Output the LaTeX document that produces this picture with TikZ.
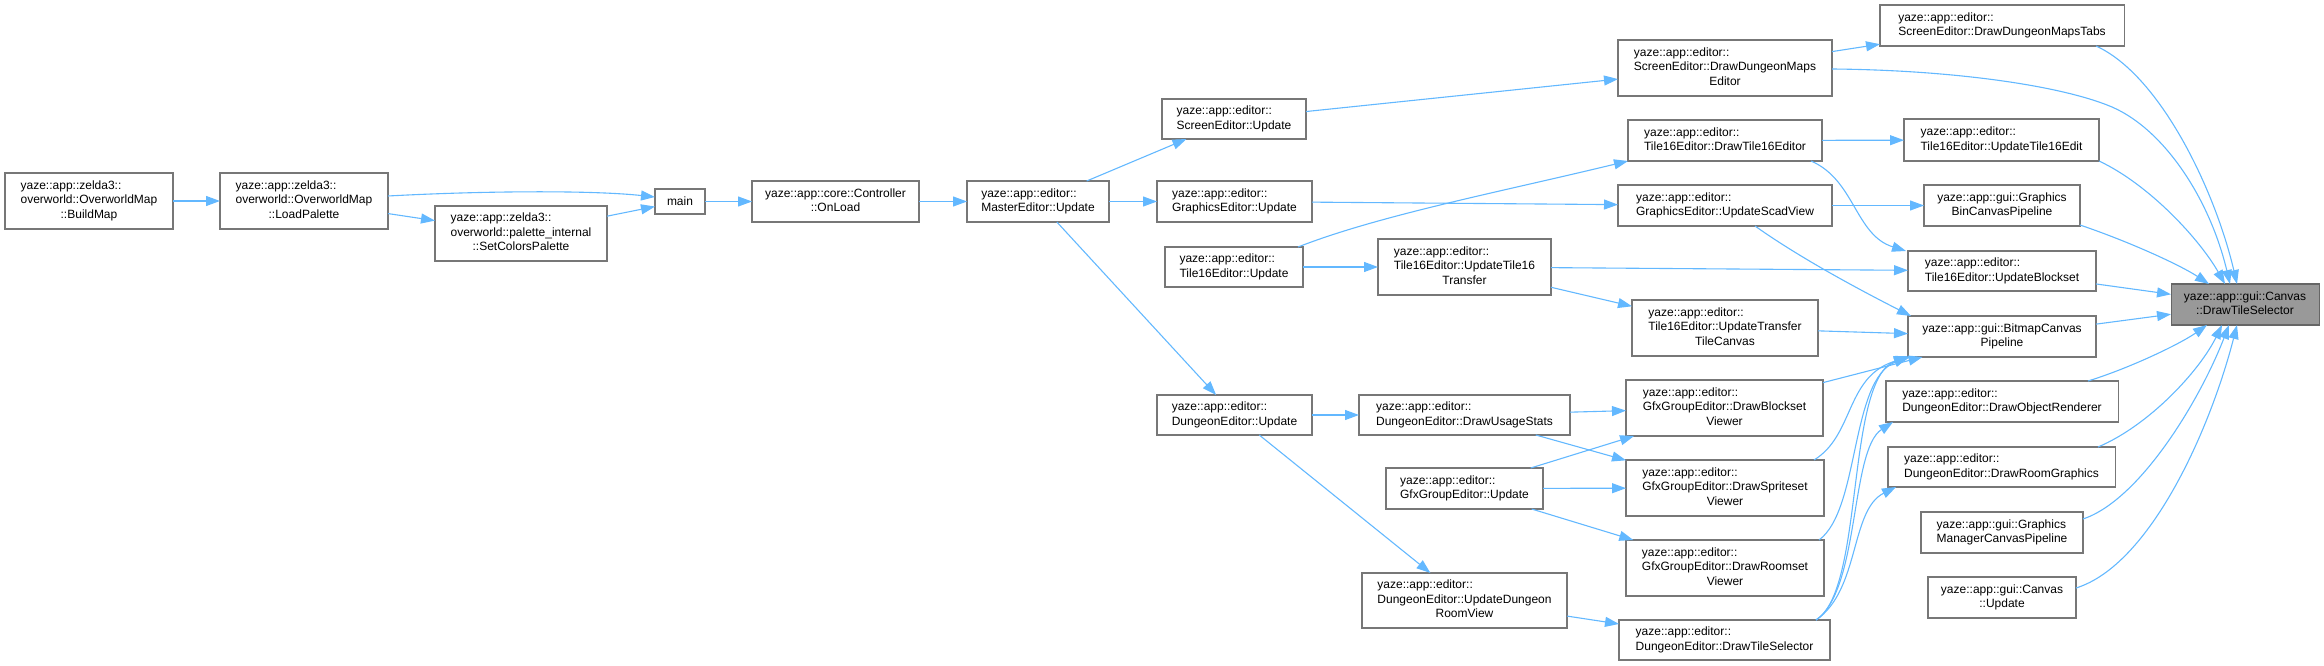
\documentclass[tikz,border=0pt]{standalone}
\usepackage{fontspec}
\setmainfont{Liberation Sans}
\usetikzlibrary{arrows.meta,calc}
\definecolor{edgec}{HTML}{63B8FF}
\definecolor{boxc}{HTML}{777777}
\definecolor{hlbox}{HTML}{666666}
\definecolor{hlfill}{HTML}{999999}
\newcommand{\tl}[2]{\begin{tabular}{@{}l@{}}#1\\\multicolumn{1}{@{}c@{}}{#2}\end{tabular}}
\newcommand{\bx}[7][]{\node[box,#1,minimum width={#5-#3},minimum height={#6-#4}] (#2) at ({(#3+#5)/2},{(#4+#6)/2}) {#7};}
\tikzset{
  box/.style={draw=boxc, fill=white, line width=1.05pt, inner sep=0pt, outer sep=0pt,
    font=\fontsize{12}{14.4}\selectfont, align=center},
  conn/.style={draw=edgec, line width=1.1pt, -{Triangle[length=14pt,width=10pt]}}
}
\begin{document}
\begin{tikzpicture}[x=1pt,y=-1pt]
\useasboundingbox (0,0) rectangle (2324,666);
% nodes
\bx{buildmap}{5}{173}{173}{229}{\tl{yaze::app::zelda3::\\overworld::OverworldMap}{::BuildMap}}
\bx{loadpal}{220}{173}{388}{229}{\tl{yaze::app::zelda3::\\overworld::OverworldMap}{::LoadPalette}}
\bx{setcol}{435}{206}{607}{261}{\tl{yaze::app::zelda3::\\overworld::palette\_internal}{::SetColorsPalette}}
\bx{main}{655}{189}{705}{214}{main}
\bx{onload}{752}{181}{919}{222}{\tl{yaze::app::core::Controller}{::OnLoad}}
\bx{master}{967}{181}{1109}{222}{\tl{yaze::app::editor::}{MasterEditor::Update}}
\bx{scrupd}{1162}{99}{1306}{139}{\tl{yaze::app::editor::}{ScreenEditor::Update}}
\bx{gfxupd}{1157}{181}{1312}{222}{\tl{yaze::app::editor::}{GraphicsEditor::Update}}
\bx{t16upd}{1165}{247}{1303}{287}{\tl{yaze::app::editor::}{Tile16Editor::Update}}
\bx{dunupd}{1157}{395}{1312}{435}{\tl{yaze::app::editor::}{DungeonEditor::Update}}
\bx{t16xfer}{1378}{239}{1551}{295}{\tl{yaze::app::editor::\\Tile16Editor::UpdateTile16}{Transfer}}
\bx{usage}{1359}{395}{1570}{435}{\tl{yaze::app::editor::}{DungeonEditor::DrawUsageStats}}
\bx{gfxgrp}{1386}{468}{1543}{509}{\tl{yaze::app::editor::}{GfxGroupEditor::Update}}
\bx{roomview}{1362}{573}{1567}{628}{\tl{yaze::app::editor::\\DungeonEditor::UpdateDungeon}{RoomView}}
\bx{mapsed}{1618}{40}{1832}{96}{\tl{yaze::app::editor::\\ScreenEditor::DrawDungeonMaps}{Editor}}
\bx{dt16}{1628}{120}{1822}{161}{\tl{yaze::app::editor::}{Tile16Editor::DrawTile16Editor}}
\bx{scad}{1618}{185}{1832}{226}{\tl{yaze::app::editor::}{GraphicsEditor::UpdateScadView}}
\bx{xfercanvas}{1632}{300}{1818}{356}{\tl{yaze::app::editor::\\Tile16Editor::UpdateTransfer}{TileCanvas}}
\bx{blockv}{1626}{380}{1823}{436}{\tl{yaze::app::editor::\\GfxGroupEditor::DrawBlockset}{Viewer}}
\bx{spritev}{1626}{460}{1824}{516}{\tl{yaze::app::editor::\\GfxGroupEditor::DrawSpriteset}{Viewer}}
\bx{roomv}{1626}{540}{1824}{596}{\tl{yaze::app::editor::\\GfxGroupEditor::DrawRoomset}{Viewer}}
\bx{dundts}{1619}{620}{1830}{660}{\tl{yaze::app::editor::}{DungeonEditor::DrawTileSelector}}
\bx{tabs}{1880}{5}{2124}{46}{\tl{yaze::app::editor::}{ScreenEditor::DrawDungeonMapsTabs}}
\bx{t16edit}{1904}{119}{2099}{161}{\tl{yaze::app::editor::}{Tile16Editor::UpdateTile16Edit}}
\bx{gbcp}{1924}{185}{2080}{226}{\tl{yaze::app::gui::Graphics}{BinCanvasPipeline}}
\bx{blockset}{1908}{251}{2096}{291}{\tl{yaze::app::editor::}{Tile16Editor::UpdateBlockset}}
\bx{bitmap}{1908}{316}{2096}{357}{\tl{yaze::app::gui::BitmapCanvas}{Pipeline}}
\bx{objrend}{1886}{381}{2118}{422}{\tl{yaze::app::editor::}{DungeonEditor::DrawObjectRenderer}}
\bx{roomgfx}{1888}{447}{2115}{487}{\tl{yaze::app::editor::}{DungeonEditor::DrawRoomGraphics}}
\bx{gmcp}{1921}{512}{2083}{553}{\tl{yaze::app::gui::Graphics}{ManagerCanvasPipeline}}
\bx{cupd}{1928}{577}{2076}{618}{\tl{yaze::app::gui::Canvas}{::Update}}
\bx[fill=hlfill,draw=hlbox]{target}{2171}{284}{2319}{325}{\tl{yaze::app::gui::Canvas}{::DrawTileSelector}}
% straight connectors
\draw[conn] (buildmap) -- (loadpal);
\draw[conn] (loadpal) -- (setcol);
\draw[conn] (setcol) -- (main);
\draw[conn] (main) -- (onload);
\draw[conn] (onload) -- (master);
\draw[conn] (master) -- (scrupd);
\draw[conn] (master) -- (gfxupd);
\draw[conn] (master) -- (dunupd);
\draw[conn] (scrupd) -- (mapsed);
\draw[conn] (gfxupd) -- (scad);
\draw[conn] (t16upd) -- (t16xfer);
\draw[conn] (t16xfer) -- (blockset);
\draw[conn] (t16xfer) -- (xfercanvas);
\draw[conn] (dt16) -- (t16edit);
\draw[conn] (scad) -- (gbcp);
\draw[conn] (xfercanvas) -- (bitmap);
\draw[conn] (blockv) -- (bitmap);
\draw[conn] (dunupd) -- (usage);
\draw[conn] (dunupd) -- (roomview);
\draw[conn] (usage) -- (blockv);
\draw[conn] (usage) -- (spritev);
\draw[conn] (gfxgrp) -- (blockv);
\draw[conn] (gfxgrp) -- (spritev);
\draw[conn] (gfxgrp) -- (roomv);
\draw[conn] (roomview) -- (dundts);
\draw[conn] (mapsed) -- (tabs);
\draw[conn] (blockset) -- (target);
\draw[conn] (bitmap) -- (target);
% curved connectors
\draw[conn] ($(loadpal.east)+(0,-5)$) .. controls +(92,-5) and +(-65,-7) .. ($(main.west)+(0,-4.5)$);
\draw[conn] ($(t16upd.north east)+(-5,0)$) .. controls +(82,-32) and +(-128,31) .. (dt16.south west);
\draw[conn] ($(dt16.south east)+(-11,0)$) .. controls +(44,19) and +(-51,-16) .. ($(blockset.north west)+(-2,0)$);
\draw[conn] ($(scad.south)+(30,0)$) .. controls +(45,32) and +(-51,-26) .. ($(bitmap.north west)+(3,0)$);
\draw[conn] ($(spritev.north east)+(-10,0)$) .. controls +(41,-25) and +(-65,18) .. ($(bitmap.south west)+(2,0)$);
\draw[conn] ($(roomv.north east)+(-5,0)$) .. controls +(41,-30) and +(-58,23) .. (bitmap.south west);
\draw[conn] ($(dundts.north east)+(-14,0)$) .. controls +(49,-30) and +(-63,24) .. ($(bitmap.south west)+(0,-1)$);
\draw[conn] ($(dundts.north east)+(-14,0)$) .. controls +(44,-30) and +(-43,28) .. ($(objrend.south west)+(7,0)$);
\draw[conn] ($(dundts.north east)+(-14,0)$) .. controls +(44,-30) and +(-46,23) .. ($(roomgfx.south west)+(8,0)$);
% into target
\draw[conn] ($(tabs.south east)+(-28,0)$) .. controls +(64,29) and +(-22,-94) .. ($(target.north)+(-8,0)$);
\draw[conn] ($(mapsed.east)+(0,1)$) .. controls (1950,70) and (2060,85) .. (2112,107) .. controls (2165,130) and (2210,200) .. ($(target.north)+(-15,0)$);
\draw[conn] (t16edit.south east) .. controls +(51,24) and +(-25,-44) .. ($(target.north)+(-20,0)$);
\draw[conn] ($(gbcp.south east)+(0,-1)$) .. controls +(50,17) and +(-29,-19) .. ($(target.north west)+(38,0)$);
\draw[conn] ($(objrend.north east)+(-30,0)$) .. controls +(42,-13) and +(-27,19) .. ($(target.south west)+(36,0)$);
\draw[conn] ($(roomgfx.north east)+(-17,0)$) .. controls +(52,-22) and +(-22,45) .. ($(target.south)+(-23,0)$);
\draw[conn] ($(gmcp.east)+(0,-13.5)$) .. controls +(57,-19) and +(-29,75) .. ($(target.south)+(-16,0)$);
\draw[conn] ($(cupd.east)+(0,-9.5)$) .. controls +(74,-23) and +(-27,105) .. ($(target.south)+(-8,0)$);
\end{tikzpicture}
\end{document}
